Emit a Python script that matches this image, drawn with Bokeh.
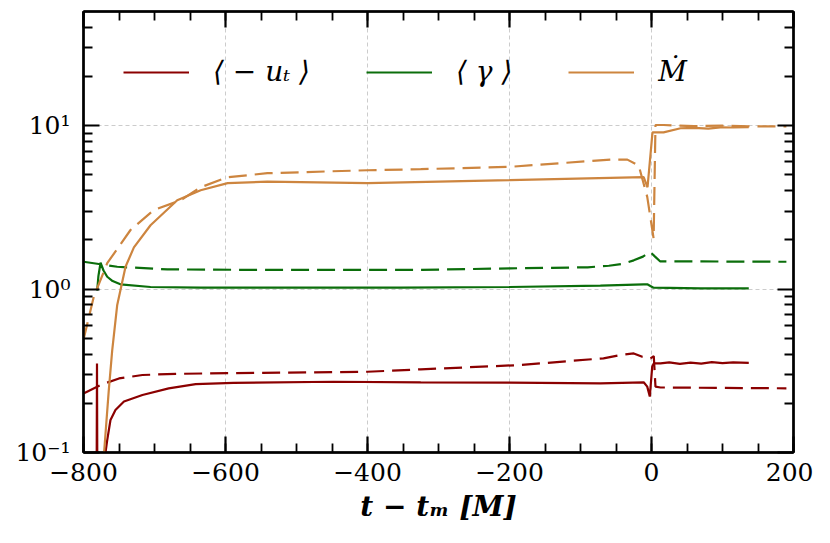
from bokeh.plotting import figure
from bokeh.models import Range1d, FixedTicker, LinearAxis, LogAxis, Legend, LegendItem, Grid
from bokeh.embed import file_html
from bokeh.resources import INLINE

# ---------------- data ----------------
ut_solid_t = [-781.6, -781.0, -780.4, -770.0, -769.0, -766.6, -762.0, -755.0, -743.0, -717.0, -680.0,
              -642.0, -589.0, -448.0, -325.0, -200.0, -72.0, -11.0, -6.0, -2.4, 1.0, 3.2, 12.7, 25.0,
              40.0, 55.0, 70.0, 85.0, 100.0, 115.0, 137.0]
ut_solid = [0.05, 0.35, 0.05, 0.05, 0.1, 0.119, 0.158, 0.182, 0.205, 0.225, 0.247,
            0.262, 0.267, 0.271, 0.269, 0.268, 0.265, 0.269, 0.253, 0.22, 0.335, 0.351, 0.351, 0.356,
            0.349, 0.355, 0.350, 0.357, 0.352, 0.356, 0.354]

ut_dash_t = [-800, -776, -750, -717, -670, -589, -400, -325, -185, -67.6, -44, -25, -13, -1.4, 3.2, 5.6, 12.7, 190]
ut_dash = [0.23, 0.259, 0.284, 0.298, 0.303, 0.306, 0.312, 0.323, 0.343, 0.377, 0.395, 0.404, 0.385, 0.377,
           0.389, 0.253, 0.25, 0.247]

gam_solid_t = [-780.7, -779, -776, -771.8, -766.6, -759, -748, -705.6, -635, -353, -200, -72, -11, -6, 2.8, 69, 137]
gam_solid = [0.98, 1.2, 1.45, 1.3, 1.19, 1.12, 1.07, 1.03, 1.02, 1.02, 1.03, 1.05, 1.07, 1.07, 1.02, 1.01, 1.01]

gam_dash_t = [-800, -776, -752.5, -682, -541, -325, -198.6, -90, -60, -40, -25, -12, -2, 5, 12, 190]
gam_dash = [1.47, 1.42, 1.37, 1.32, 1.31, 1.31, 1.34, 1.36, 1.39, 1.43, 1.5, 1.58, 1.69, 1.58, 1.48, 1.47]

mdot_solid_t = [-774, -771, -764.4, -759.6, -752.5, -740.8, -729, -705.6, -668, -635, -597, -541, -400, -200,
                -11, -5.6, 1.4, 17, 41, 60, 80, 97, 115, 137]
mdot_solid = [0.08, 0.1, 0.24, 0.42, 0.8, 1.37, 1.8, 2.46, 3.5, 4.03, 4.45, 4.55, 4.45, 4.64,
              4.84, 4.2, 9.1, 9.1, 9.65, 9.7, 9.6, 9.78, 9.75, 9.8]

mdot_dash_t = [-800, -785.5, -766.6, -733.8, -701.4, -663, -635, -597, -541, -400, -325, -200, -128, -58, -34,
               -18, -6, 3, 5.6, 17, 60, 100, 150, 190]
mdot_dash = [0.49, 0.9, 1.44, 2.3, 3.04, 3.5, 4.2, 4.84, 5.12, 5.34, 5.42, 5.6, 5.9, 6.2, 6.2,
             5.7, 3.67, 2.04, 10.1, 10.1, 9.95, 10.0, 9.9, 9.9]

x_ticks = [-800, -600, -400, -200, 0, 200]
x_tick_labels = ["−800", "−600", "−400", "−200", "0", "200"]
x_minor = list(range(-800, 201, 50))
y_ticks = [0.1, 1, 10]
y_tick_labels = ["10⁻¹", "10⁰", "10¹"]
y_minor = [0.2, 0.3, 0.4, 0.5, 0.6, 0.7, 0.8, 0.9, 2, 3, 4, 5, 6, 7, 8, 9, 20, 30, 40]
legend_labels = ["⟨ − uₜ ⟩", "⟨ γ ⟩", "Ṁ"]

RED = "#8b0000"
GREEN = "#0b6e0b"
ORANGE = "#cd853f"
FONT = "DejaVu Serif"

p = figure(frame_width=710, frame_height=441, x_axis_type="linear", y_axis_type="log",
           x_axis_location=None, y_axis_location=None,
           x_range=Range1d(-800, 200), y_range=Range1d(0.1, 50),
           output_backend="svg", toolbar_location=None,
           min_border_left=83, min_border_top=11, min_border_right=20, min_border_bottom=84)
p.outline_line_color = "black"
p.outline_line_width = 2
p.background_fill_color = "white"
for g in p.grid:
    g.visible = False

xt = FixedTicker(ticks=x_ticks, minor_ticks=x_minor)
yt = FixedTicker(ticks=y_ticks, minor_ticks=y_minor)

bottom = LinearAxis(ticker=xt, major_label_overrides=dict(zip(x_ticks, x_tick_labels)))
left = LogAxis(ticker=yt, major_label_overrides=dict(zip(y_ticks, y_tick_labels)))
top = LinearAxis(ticker=xt, major_label_text_font_size="1px", major_label_text_alpha=0,
                 major_label_standoff=0)
right = LogAxis(ticker=yt, major_label_text_font_size="1px", major_label_text_alpha=0,
                major_label_standoff=0)
p.add_layout(bottom, "below")
p.add_layout(left, "left")
p.add_layout(top, "above")
p.add_layout(right, "right")

for ax in [bottom, left, top, right]:
    ax.axis_line_color = "black"
    ax.axis_line_width = 2.5
    ax.major_tick_in = 16
    ax.major_tick_out = 0
    ax.minor_tick_in = 9
    ax.minor_tick_out = 0
    ax.major_tick_line_width = 2.2
    ax.minor_tick_line_width = 1.8
    ax.major_tick_line_color = "black"
    ax.minor_tick_line_color = "black"

for ax in [bottom, left]:
    ax.major_label_text_font = FONT
    ax.major_label_text_font_size = "25px"
    ax.major_label_text_color = "black"
bottom.major_label_standoff = 10
left.major_label_standoff = 13

bottom.axis_label = "t − tₘ [M]"
bottom.axis_label_text_font = FONT
bottom.axis_label_text_font_size = "28px"
bottom.axis_label_text_font_style = "bold italic"
bottom.axis_label_text_color = "black"
bottom.axis_label_standoff = 6

xg = Grid(dimension=0, ticker=xt, grid_line_color="#cccccc", grid_line_dash="4 3", grid_line_width=1)
yg = Grid(dimension=1, ticker=yt, grid_line_color="#cccccc", grid_line_dash="4 3", grid_line_width=1)
p.add_layout(xg)
p.add_layout(yg)

LW = 2.2
DASH = "18 8"
r1 = p.line(ut_solid_t, ut_solid, line_color=RED, line_width=LW)
p.line(ut_dash_t, ut_dash, line_color=RED, line_width=LW, line_dash=DASH)
r2 = p.line(gam_solid_t, gam_solid, line_color=GREEN, line_width=LW)
p.line(gam_dash_t, gam_dash, line_color=GREEN, line_width=LW, line_dash=DASH)
r3 = p.line(mdot_solid_t, mdot_solid, line_color=ORANGE, line_width=LW)
p.line(mdot_dash_t, mdot_dash, line_color=ORANGE, line_width=LW, line_dash=DASH)

legend = Legend(items=[LegendItem(label=legend_labels[0], renderers=[r1]),
                       LegendItem(label=legend_labels[1], renderers=[r2]),
                       LegendItem(label=legend_labels[2], renderers=[r3])],
                orientation="horizontal", location=(40, 364),
                glyph_width=66, glyph_height=30, label_height=30, label_standoff=24, spacing=56,
                padding=0, margin=0, border_line_alpha=0, background_fill_alpha=0,
                label_text_font=FONT, label_text_font_size="28px", label_text_font_style="italic",
                label_text_color="black")
p.add_layout(legend, "center")

open("out.html", "w").write(file_html(p, INLINE))
